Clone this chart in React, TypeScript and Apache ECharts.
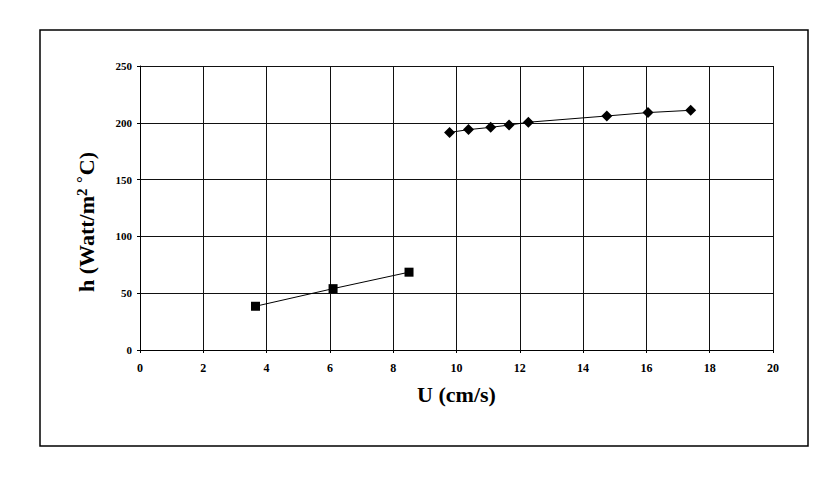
import React, { useEffect, useRef } from "react";
import * as echarts from "echarts";

const squareU = [3.65, 6.1, 8.5];
const squareH = [38.5, 54, 68.5];
const diamondU = [9.78, 10.38, 11.08, 11.66, 12.27, 14.75, 16.05, 17.4];
const diamondH = [191.5, 194, 196, 198, 200.5, 206, 209, 211];
const xTicks = [0, 2, 4, 6, 8, 10, 12, 14, 16, 18, 20];
const yTicks = [0, 50, 100, 150, 200, 250];

export default function App() {
  const ref = useRef<HTMLDivElement>(null);
  useEffect(() => {
    if (!ref.current) return;
    const chart = echarts.init(ref.current, null, { renderer: "svg" });
    const font = "'Liberation Serif', 'Times New Roman', serif";
    chart.setOption({
      animation: false,
      backgroundColor: "#ffffff",
      grid: { left: 140, right: 61, top: 66, bottom: 129 },
      xAxis: {
        type: "value",
        min: xTicks[0],
        max: xTicks[xTicks.length - 1],
        interval: 2,
        name: "U (cm/s)",
        nameLocation: "middle",
        nameGap: 33,
        nameTextStyle: { fontFamily: font, fontWeight: "bold", fontSize: 22, color: "#000" },
        axisLine: { lineStyle: { color: "#000", width: 1 } },
        axisTick: { show: true, length: 3, lineStyle: { color: "#000" } },
        axisLabel: { fontFamily: font, fontWeight: "bold", fontSize: 12, color: "#000", margin: 12 },
        splitLine: { show: true, lineStyle: { color: "#111", width: 1 } },
      },
      yAxis: {
        type: "value",
        min: yTicks[0],
        max: yTicks[yTicks.length - 1],
        interval: 50,
        name: "h (Watt/m{sup|2} {deg|°}C)",
        nameLocation: "middle",
        nameGap: 41,
        nameTextStyle: {
          fontFamily: font,
          fontWeight: "bold",
          fontSize: 22,
          color: "#000",
          padding: [0, 28, 0, 0],
          rich: {
            sup: { fontFamily: font, fontWeight: "bold", fontSize: 15, color: "#000", verticalAlign: "top", padding: [0, 0, 10, 0] },
            deg: { fontFamily: font, fontWeight: "bold", fontSize: 17, color: "#000", verticalAlign: "top", padding: [0, 1, 8, 0] },
          },
        },
        axisLine: { show: true, lineStyle: { color: "#000", width: 1 } },
        axisTick: { show: true, length: 3, lineStyle: { color: "#000" } },
        axisLabel: { fontFamily: font, fontWeight: "bold", fontSize: 11, color: "#000", margin: 8 },
        splitLine: { show: true, lineStyle: { color: "#111", width: 1 } },
      },
      series: [
        {
          type: "line",
          data: squareU.map((u, i) => [u, squareH[i]]),
          symbol: "rect",
          symbolSize: 9,
          itemStyle: { color: "#000" },
          lineStyle: { color: "#000", width: 1 },
        },
        {
          type: "line",
          data: diamondU.map((u, i) => [u, diamondH[i]]),
          symbol: "diamond",
          symbolSize: 11,
          itemStyle: { color: "#000" },
          lineStyle: { color: "#000", width: 1 },
        },
      ],
      graphic: [
        {
          type: "rect",
          shape: { x: 40, y: 30, width: 768, height: 416 },
          style: { fill: "none", stroke: "#000", lineWidth: 1.5 },
          silent: true,
        },
      ],
    });
    return () => chart.dispose();
  }, []);
  return (
    <div
      ref={ref}
      style={{ position: "fixed", left: 0, top: 0, width: 834, height: 479 }}
    />
  );
}
